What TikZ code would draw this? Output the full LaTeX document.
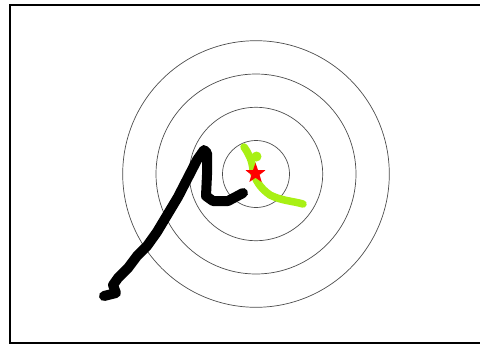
\documentclass[tikz,border=0pt]{standalone}
\definecolor{limeg}{RGB}{168,240,20}
\tikzset{
  ring/.style={draw=black!70, line width=0.7pt},
  frame/.style={draw=black, line width=2pt},
  pen/.style={line width=10pt, line cap=round, line join=round},
  greenpen/.style={line width=7.5pt, color=limeg, line cap=round, line join=round},
}
\begin{document}
\begin{tikzpicture}[x=1pt,y=-1pt]
\useasboundingbox (0,0) rectangle (480,346);
\begin{scope}
\clip (0,0) rectangle (480,346);
\draw[frame] (10,4.5) rectangle (484,342.5);
\end{scope}
\coordinate (c) at (256,174);
\foreach \r in {33.5,66.7,100,133.3}{
  \draw[ring] (c) circle[radius=\r];
}
% green stroke
\draw[greenpen] (244,147) .. controls (249,154) and (252,160) .. (253,170)
  .. controls (255,180) and (260,188) .. (270,195)
  .. controls (282,201) and (293,201) .. (303,204);
\fill[limeg] (256.5,156.5) circle[radius=5];
% black stroke
\draw[pen] (104,296) -- (116,293) -- (113,285) -- (118,278) -- (128,268)
  -- (137,256) -- (147,246) -- (157,232) -- (178,197) -- (197,160)
  -- (204,150) -- (207,153) -- (207,175) -- (206,196) -- (213,201)
  -- (228,201) -- (243,193);
% star
\begin{scope}[shift={(255.5,173.5)}, yscale=-1]
\fill[red] (90:10.5) -- (126:4.3) -- (162:10.5) -- (198:4.3) -- (234:10.5) -- (270:4.3)
  -- (306:10.5) -- (342:4.3) -- (18:10.5) -- (54:4.3) -- cycle;
\end{scope}
\end{tikzpicture}
\end{document}
